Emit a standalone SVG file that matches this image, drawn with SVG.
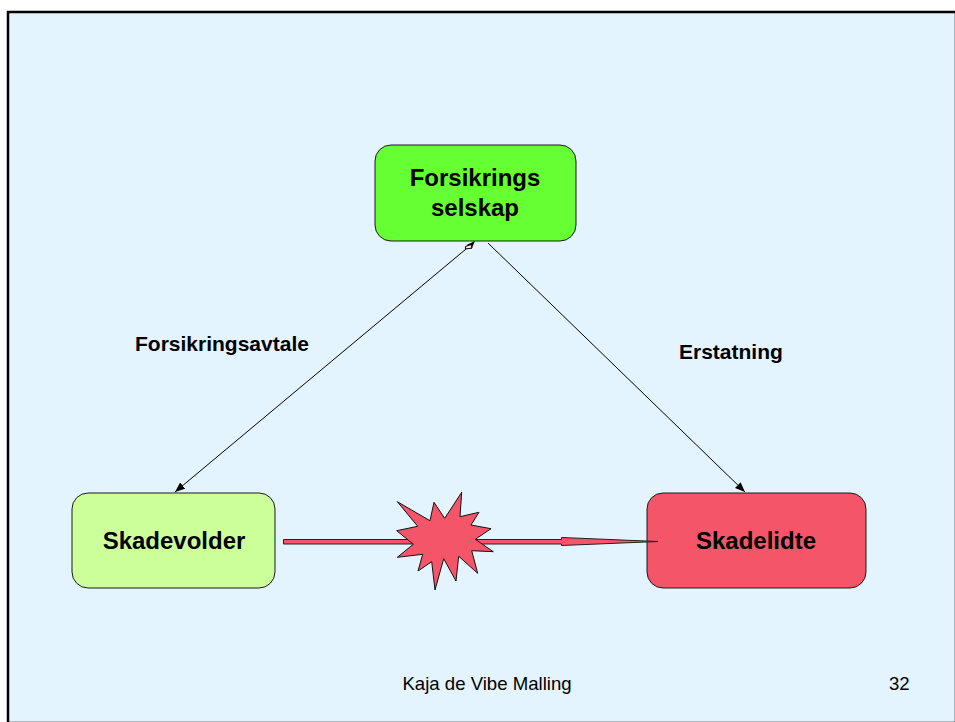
<svg xmlns="http://www.w3.org/2000/svg" width="955" height="722" viewBox="0 0 955 722">
<style>
.box{stroke:#1a1a1a;stroke-width:1}
.t{font-family:"Liberation Sans",Arial,sans-serif;fill:#000}
.b{font-weight:bold;font-size:24px;text-anchor:middle}
.l{font-weight:bold;font-size:21px}
.f{font-size:18.600px}
.c{stroke:#000;stroke-width:1;fill:none}
</style>
<defs>
<marker id="ah" markerUnits="userSpaceOnUse" markerWidth="12" markerHeight="10" refX="10" refY="4" orient="auto"><path d="M0 0L10 4L0 8z" fill="#000"/></marker>
</defs>
<rect width="955" height="722" fill="#fff"/>
<rect x="8" y="12" width="948" height="711" fill="#E3F4FF" stroke="#000" stroke-width="2.500"/>
<g id="connectors">
<path class="c" d="M466 249L175 492" marker-end="url(#ah)"/>
<path d="M475 241L466.500 245L471.500 249Z" fill="#000"/>
<path d="M465.500 246.500L471 244.500L472 248L465.500 249Z" fill="#FFF3B0" stroke="#000" stroke-width="1"/>
<path class="c" d="M488 243L745 492" marker-end="url(#ah)"/>
</g>
<g id="node-forsikring"><rect class="box" x="375" y="145" width="201" height="96" rx="16" fill="#66FF33"/>
<text class="t b" x="475" y="186">Forsikrings</text><text class="t b" x="475" y="216">selskap</text></g>
<g id="node-skadevolder"><rect class="box" x="72" y="493" width="203" height="95" rx="16" fill="#CCFF99"/>
<text class="t b" x="174" y="549">Skadevolder</text></g>
<g id="node-skadelidte"><rect class="box" x="647" y="493" width="219" height="95" rx="16" fill="#F55568"/>
<text class="t b" x="756" y="549">Skadelidte</text></g>
<g id="arrow-skade"><path d="M283.500 539.500H561.500V537.500L658 541.500L561.500 545.500V544H283.500Z" fill="#F55568" stroke="#222" stroke-width="1"/></g>
<g id="star"><path d="M397.300 501.700L430 520.700L434 502.300L444.700 518.300L461.700 492.300L460 516.700L479 512.300L471 525L491 528.700L475.300 539.300L493.300 551.700L471.700 550.700L477.700 573.300L458.700 556.300L456 581L443.700 558.700L435 590L431.700 561.700L418 571L422.700 554.300L397.300 557.300L413.300 544.300L396.700 530.700L417.700 526.300Z" fill="#F55568" stroke="#111" stroke-width="1"/></g>
<text class="t l" x="135" y="351">Forsikringsavtale</text>
<text class="t l" x="679" y="359">Erstatning</text>
<text class="t f" x="487" y="690" text-anchor="middle">Kaja de Vibe Malling</text>
<text class="t f" x="889" y="690">32</text>
</svg>
